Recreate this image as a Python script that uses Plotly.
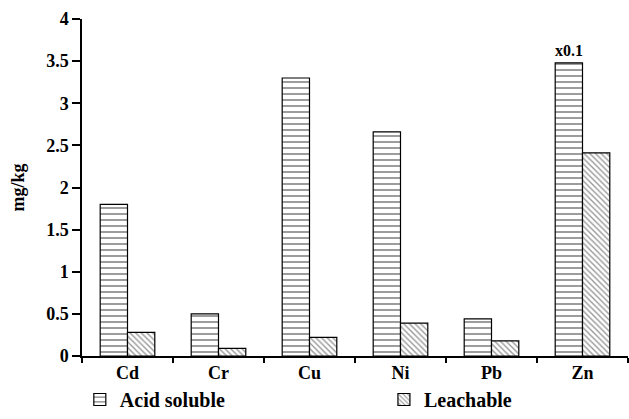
import plotly.graph_objects as go

metals = ["Cd", "Cr", "Cu", "Ni", "Pb", "Zn"]
acid_soluble = [1.80, 0.50, 3.30, 2.66, 0.44, 3.48]
leachable = [0.28, 0.09, 0.22, 0.39, 0.18, 2.41]
y_ticks = [0, 0.5, 1, 1.5, 2, 2.5, 3, 3.5, 4]
y_tick_text = ["0", "0.5", "1", "1.5", "2", "2.5", "3", "3.5", "4"]

font = "Liberation Serif, Times New Roman, serif"
bold = lambda s: dict(family=font, size=s, color="black", weight="bold")

fig = go.Figure()
fig.add_trace(go.Bar(
    x=metals, y=acid_soluble, name="Acid soluble", legend="legend",
    marker=dict(color="white", line=dict(color="black", width=1.2),
                pattern=dict(shape="-", fgcolor="#222", bgcolor="white", size=6, solidity=0.2,
                             fgopacity=0.75)),
))
fig.add_trace(go.Bar(
    x=metals, y=leachable, name="Leachable", legend="legend2",
    marker=dict(color="white", line=dict(color="black", width=1.2),
                pattern=dict(shape="\\", fgcolor="#333", bgcolor="white", size=4, solidity=0.35)),
))

fig.add_annotation(x="Zn", y=acid_soluble[5], xshift=-14, text="x0.1", showarrow=False,
                   yanchor="bottom", yshift=2, font=bold(16))

fig.update_layout(
    width=629, height=419,
    margin=dict(l=82, r=1, t=19, b=62),
    paper_bgcolor="white", plot_bgcolor="white",
    barmode="group", bargap=0.4, bargroupgap=0,
    font=bold(18),
    showlegend=True,
    legend=dict(x=-0.004, xanchor="left", y=-0.185, yanchor="bottom",
                font=bold(20), itemwidth=30, bgcolor="rgba(0,0,0,0)"),
    legend2=dict(x=0.553, xanchor="left", y=-0.185, yanchor="bottom",
                 font=bold(20), itemwidth=30, bgcolor="rgba(0,0,0,0)"),
    xaxis=dict(range=[-0.5, 5.5], showline=True, linecolor="black", linewidth=1.5,
               ticks="outside", tickson="boundaries", ticklen=5, tickcolor="black", tickwidth=1.5,
               tickfont=bold(18), showgrid=False, fixedrange=True),
    yaxis=dict(range=[0, 4], tickvals=y_ticks, ticktext=y_tick_text,
               showline=True, linecolor="black", linewidth=1.5,
               ticks="outside", ticklen=8, tickcolor="black", tickwidth=1.5,
               showgrid=False, zeroline=False,
               tickfont=bold(18),
               title=dict(text="mg/kg", font=bold(18), standoff=17)),
)

fig.write_html("out.html", config={"displayModeBar": False},
               post_script="document.body.style.margin='0';document.body.style.overflow='hidden';")
